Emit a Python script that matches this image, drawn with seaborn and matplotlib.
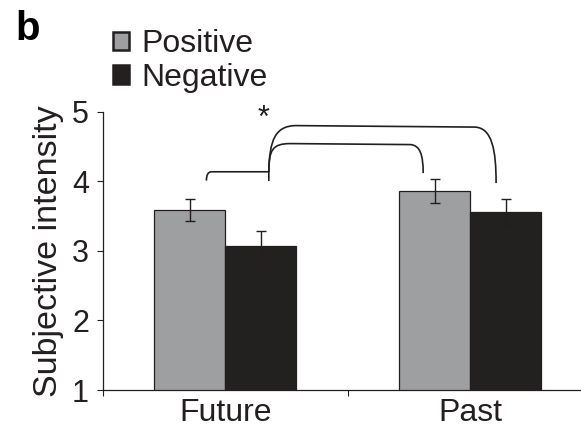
import matplotlib
matplotlib.use("Agg")
import matplotlib.pyplot as plt
from matplotlib.path import Path
from matplotlib.patches import PathPatch
import seaborn as sns
import pandas as pd

# Mean subjective intensity ratings with standard errors
conditions = ["Future", "Future", "Past", "Past"]
valence = ["Positive", "Negative", "Positive", "Negative"]
intensity = [3.59, 3.07, 3.86, 3.56]
sem = [0.16, 0.22, 0.17, 0.18]

ink = "#231f20"
gray = "#9d9fa2"

df = pd.DataFrame({"condition": conditions, "valence": valence,
                   "intensity": intensity, "sem": sem})

sns.set_theme(style="ticks")
plt.rcParams["font.family"] = ["Liberation Sans", "DejaVu Sans"]
plt.rcParams["text.color"] = ink
plt.rcParams["axes.labelcolor"] = ink
plt.rcParams["xtick.color"] = ink
plt.rcParams["ytick.color"] = ink

fig = plt.figure(figsize=(5.81, 4.30), dpi=100)
ax = fig.add_axes([103 / 581, 1 - 390 / 430, (592.5 - 103) / 581, (390 - 111.7) / 430])

sns.barplot(data=df, x="condition", y="intensity", hue="valence",
            hue_order=["Positive", "Negative"], order=["Future", "Past"],
            palette=[gray, ink], width=0.58, edgecolor=ink, linewidth=0.9,
            errorbar=None, ax=ax, zorder=2)

# Standard-error bars at the centre of each bar
for level, container in zip(["Positive", "Negative"], ax.containers):
    sub = df[df["valence"] == level].set_index("condition").loc[["Future", "Past"]]
    xs = [b.get_x() + b.get_width() / 2 for b in container]
    ax.errorbar(xs, sub["intensity"], yerr=sub["sem"], fmt="none",
                ecolor=ink, elinewidth=1.0, capsize=3.6, capthick=1.0, zorder=3)

ax.set_ylim(1, 5)
ax.set_xlim(-0.5, 1.5)
ax.set_yticks([1, 2, 3, 4, 5])
ax.set_xticks([0, 1])
ax.set_xticks([-0.5, 0.5, 1.5], minor=True)
ax.tick_params(axis="x", which="major", length=0, pad=6, labelsize=23)
ax.tick_params(axis="x", which="minor", length=4, width=0.8, direction="out")
ax.tick_params(axis="y", length=4, width=0.8, direction="out", pad=6, labelsize=22)
ax.set_xlabel("")
ax.set_ylabel("Subjective intensity", fontsize=24.5, labelpad=6)
for side in ["top", "right"]:
    ax.spines[side].set_visible(False)
for side in ["left", "bottom"]:
    ax.spines[side].set_color(ink)
    ax.spines[side].set_linewidth(0.9)

# Comparison brackets (data coordinates, drawn above the axes area)
def px(x, y):
    return ((x - 225) / 245, 1 + (390 - y) / 69.6)

brackets = [
    [(Path.MOVETO, px(206, 180.5)), (Path.CURVE3, px(206, 171.7)), (Path.CURVE3, px(211, 171.7)),
     (Path.LINETO, px(268.5, 171.7)), (Path.LINETO, px(268.5, 181))],
    [(Path.MOVETO, px(268.5, 172)), (Path.CURVE4, px(268.5, 150)), (Path.CURVE4, px(272, 143.5)),
     (Path.CURVE4, px(290, 143.5)), (Path.LINETO, px(410, 144.5)), (Path.CURVE4, px(420, 145)),
     (Path.CURVE4, px(423, 155)), (Path.CURVE4, px(423, 173))],
    [(Path.MOVETO, px(268.5, 172)), (Path.CURVE4, px(269, 140)), (Path.CURVE4, px(275, 126)),
     (Path.CURVE4, px(295, 125.5)), (Path.LINETO, px(475, 127)), (Path.CURVE4, px(492, 128)),
     (Path.CURVE4, px(496, 150)), (Path.CURVE4, px(496, 183))],
]
for segs in brackets:
    codes = [c for c, _ in segs]
    verts = [v for _, v in segs]
    ax.add_patch(PathPatch(Path(verts, codes), fill=False, edgecolor=ink,
                           linewidth=1.2, clip_on=False, zorder=4))

ax.text(*px(263, 119), "*", fontsize=22, ha="center", va="center", color=ink)

# Legend with small square keys in the top-left corner
sns.move_legend(ax, "upper left", bbox_to_anchor=(113 / 581, 1 - 29 / 430),
                bbox_transform=fig.transFigure, frameon=False, title=None,
                fontsize=23, handlelength=0.5, handleheight=0.5,
                handletextpad=0.4, labelspacing=0.12, borderpad=0, borderaxespad=0)
for h in ax.get_legend().legend_handles:
    h.set_edgecolor(ink)
    h.set_linewidth(1.8)

fig.text(15 / 581, 1 - 40 / 430, "b", fontsize=29, fontweight="bold", color="black")

fig.savefig("out.png", dpi=100)
